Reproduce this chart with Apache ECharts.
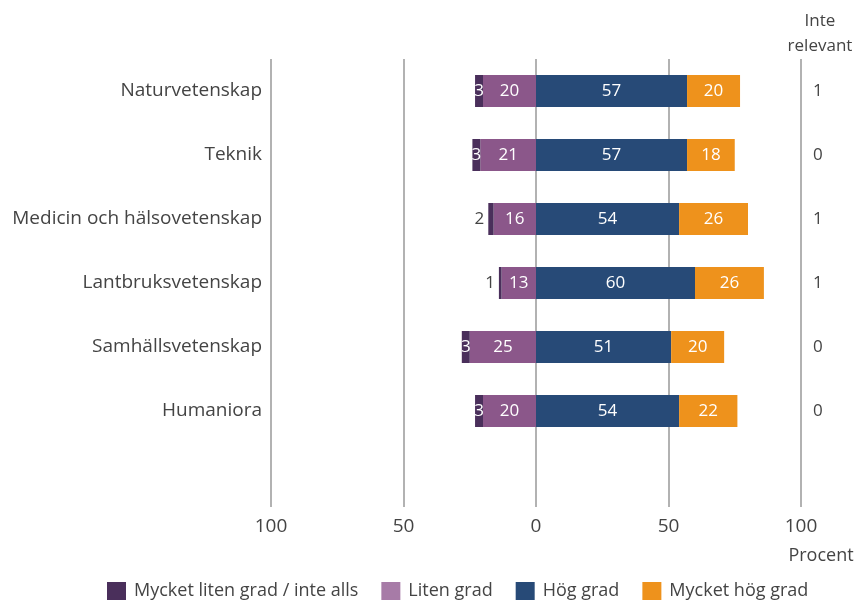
<!DOCTYPE html>
<html>
<head>
<meta charset="utf-8">
<script src="https://cdn.jsdelivr.net/npm/echarts@6/dist/echarts.min.js"></script>
<style>
  html, body { margin: 0; padding: 0; background: #fff; }
  #chart { width: 855px; height: 600px; }
</style>
</head>
<body>
<div id="chart"></div>
<script>
var categories = ['Naturvetenskap', 'Teknik', 'Medicin och hälsovetenskap', 'Lantbruksvetenskap', 'Samhällsvetenskap', 'Humaniora'];
var mycketLiten = [3, 3, 2, 1, 3, 3];
var liten = [20, 21, 16, 13, 25, 20];
var hog = [57, 57, 54, 60, 51, 54];
var mycketHog = [20, 18, 26, 26, 20, 22];
var inteRelevant = [1, 0, 1, 1, 0, 0];

var font = 'Open Sans';
var textColor = '#444';

(function() {
  var myChart = echarts.init(document.getElementById('chart'));

  // last empty row leaves space under the bars like in the original
  var yCats = categories.concat(['']);
  var yRight = inteRelevant.map(String).concat(['']);

  var whiteLabel = {
    show: true,
    position: 'inside',
    color: '#fff',
    fontFamily: font,
    fontSize: 17,
    formatter: function(p) { return Math.abs(p.value); }
  };

  var option = {
    animation: false,
    textStyle: { fontFamily: font },
    grid: { left: 271, right: 54, top: 59, bottom: 93 },
    legend: {
      bottom: -5,
      left: 102,
      itemWidth: 19,
      itemHeight: 18,
      itemGap: 23,
      icon: 'rect',
      textStyle: { color: textColor, fontSize: 18, fontFamily: font, padding: [0, 0, 0, 3] },
      data: [
        { name: 'Mycket liten grad / inte alls' },
        { name: 'Liten grad', itemStyle: { color: '#a77ba7' } },
        { name: 'Hög grad' },
        { name: 'Mycket hög grad' }
      ]
    },
    xAxis: {
      type: 'value',
      min: -100,
      max: 100,
      interval: 50,
      axisLine: { show: false },
      axisTick: { show: false },
      splitLine: { show: true, lineStyle: { color: '#999', width: 1.5 } },
      axisLabel: {
        color: textColor,
        fontSize: 19,
        margin: 10,
        fontFamily: font,
        formatter: function(v) { return Math.abs(v); }
      }
    },
    yAxis: [
      {
        type: 'category',
        inverse: true,
        data: yCats,
        axisLine: { show: false },
        axisTick: { show: false },
        axisLabel: { color: textColor, fontSize: 19, margin: 9, fontFamily: font, padding: [4, 0, 0, 0] }
      },
      {
        type: 'category',
        inverse: true,
        position: 'right',
        data: yRight,
        axisLine: { show: false },
        axisTick: { show: false },
        axisLabel: { color: textColor, fontSize: 17, margin: 12, fontFamily: font, align: 'left', padding: [4, 0, 0, 0] }
      }
    ],
    graphic: [
      {
        type: 'text',
        x: 820,
        y: 9,
        style: {
          text: 'Inte\nrelevant',
          fill: textColor,
          font: '17px "Open Sans"',
          align: 'center',
          lineHeight: 25
        }
      },
      {
        type: 'text',
        x: 821,
        y: 547,
        style: { text: 'Procent', fill: textColor, font: '18px "Open Sans"', align: 'center' }
      }
    ],
    series: [
      {
        name: 'Liten grad',
        type: 'bar',
        stack: 'total',
        barWidth: 32,
        itemStyle: { color: '#8b578a' },
        label: whiteLabel,
        data: liten.map(function(v) { return -v; })
      },
      {
        name: 'Mycket liten grad / inte alls',
        type: 'bar',
        stack: 'total',
        barWidth: 32,
        itemStyle: { color: '#4a2f5b' },
        data: mycketLiten.map(function(v) {
          if (v < 3) {
            return {
              value: -v,
              label: {
                show: true, position: 'left', distance: 4, color: textColor,
                fontSize: 17, fontFamily: font, formatter: String(v)
              }
            };
          }
          return { value: -v, label: whiteLabel };
        })
      },
      {
        name: 'Hög grad',
        type: 'bar',
        stack: 'total',
        barWidth: 32,
        itemStyle: { color: '#274a77' },
        label: whiteLabel,
        data: hog
      },
      {
        name: 'Mycket hög grad',
        type: 'bar',
        stack: 'total',
        barWidth: 32,
        itemStyle: { color: '#ee921c' },
        label: whiteLabel,
        data: mycketHog
      }
    ]
  };
  myChart.setOption(option);
})();
</script>
</body>
</html>
